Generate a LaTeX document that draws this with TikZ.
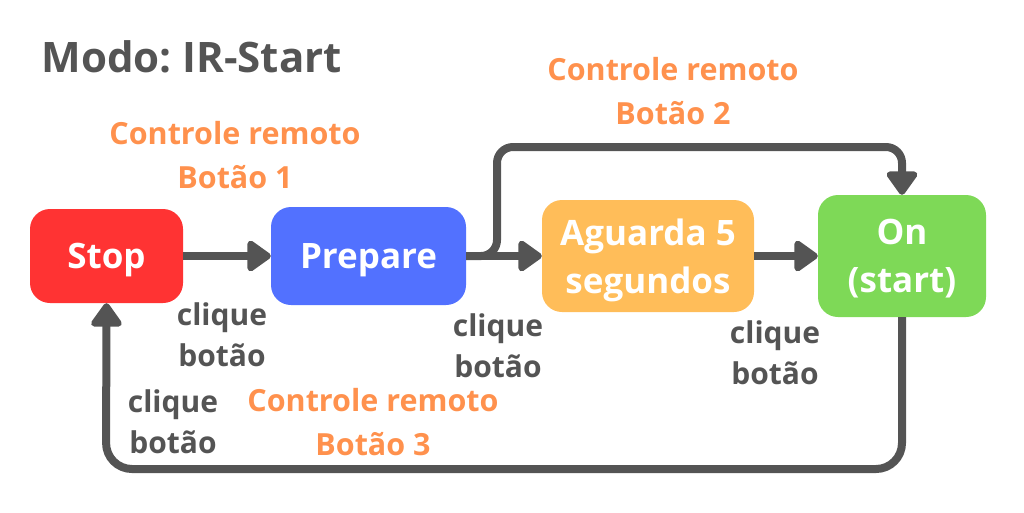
\documentclass[tikz,border=0pt]{standalone}
\usepackage{fontspec}
\setmainfont{Open Sans}
\usetikzlibrary{arrows.meta}
\definecolor{stopred}{HTML}{FF3333}
\definecolor{prepblue}{HTML}{5271FF}
\definecolor{waitorange}{HTML}{FFBD59}
\definecolor{ongreen}{HTML}{7ED957}
\definecolor{remote}{HTML}{FF914D}
\definecolor{darkline}{HTML}{545454}
\frenchspacing
\begin{document}
\begin{tikzpicture}[
    x=1pt,y=-1pt,
    state/.style={rectangle,rounded corners=20pt,draw=none,text=white,font=\bfseries\fontsize{35}{48}\selectfont,align=center,inner sep=0pt,text depth=0pt},
    link/.style={draw=darkline,line width=8pt,-{Triangle[length=26pt,width=35pt,round]}},
    remark/.style={text=darkline,font=\bfseries\fontsize{30}{41}\selectfont,align=center},
    remotelbl/.style={text=remote,font=\bfseries\fontsize{30.5}{44}\selectfont,align=center},
    ]
    \useasboundingbox (0,0) rectangle (1024,512);
    \node[text=darkline,font=\bfseries\fontsize{42}{50}\selectfont,anchor=west] (title) at (38,57) {Modo: IR-Start};
    \node[state,fill=stopred,minimum width=153pt,minimum height=94pt] (stop) at (106.5,256) {Stop};
    \node[state,fill=prepblue,minimum width=195pt,minimum height=98pt] (prepare) at (368.5,256) {Prepare};
    \node[state,fill=waitorange,minimum width=212pt,minimum height=112pt] (wait) at (648,256) {Aguarda 5\\segundos};
    \node[state,fill=ongreen,minimum width=168pt,minimum height=122pt] (on) at (902,256) {On\\(start)};
    \coordinate (fork) at (497,256);
    \draw[link] (stop) -- (prepare);
    \draw[link] (prepare) -- (wait);
    \draw[link] (wait) -- (on);
    \draw[link,rounded corners=16pt] (prepare.east) -- (fork) -- (497,147) -- (902,147) -- (on.north);
    \draw[link,rounded corners=26pt] (on.south) -- (902,469) -- (106,469) -- (stop.south);
    \node[remotelbl] (remote1) at (235,155) {Controle remoto\\Botão 1};
    \node[remotelbl] (remote2) at (673,91) {Controle remoto\\Botão 2};
    \node[remotelbl] (remote3) at (373,422) {Controle remoto\\Botão 3};
    \node[remark] (click1) at (222,335) {clique\\botão};
    \node[remark] (click2) at (498,346) {clique\\botão};
    \node[remark] (click3) at (775,353) {clique\\botão};
    \node[remark] (click4) at (173,422) {clique\\botão};
\end{tikzpicture}
\end{document}
